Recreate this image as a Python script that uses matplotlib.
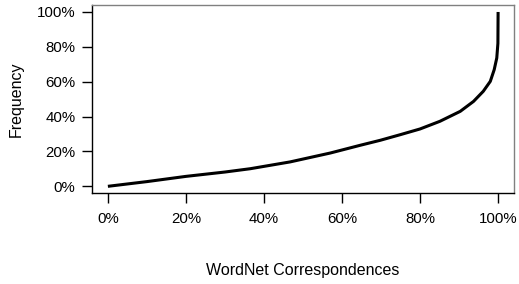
import matplotlib
matplotlib.use('Agg')
import matplotlib.pyplot as plt
from matplotlib.ticker import FuncFormatter

# cumulative share of WordNet correspondences vs frequency
correspondences = [0.0, 0.10, 0.20, 0.30, 0.365, 0.467, 0.57, 0.646, 0.698, 0.749,
                   0.80, 0.851, 0.903, 0.937, 0.962, 0.980, 0.990, 0.9966, 0.9995, 1.0]
frequency = [0.0, 0.027, 0.057, 0.082, 0.101, 0.14, 0.191, 0.235, 0.264, 0.296,
             0.329, 0.373, 0.43, 0.487, 0.545, 0.602, 0.669, 0.736, 0.82, 1.0]

tick_vals = [0, 0.2, 0.4, 0.6, 0.8, 1.0]

plt.rcParams['font.family'] = ['Liberation Sans', 'DejaVu Sans']
plt.rcParams['font.size'] = 10.8

fig = plt.figure(figsize=(5.19, 2.84), dpi=100)
ax = fig.add_axes([0.1778, 0.3194, 0.9898 - 0.1778, 0.9824 - 0.3194])

ax.plot(correspondences, frequency, color='black', lw=2.2,
        solid_capstyle='butt', solid_joinstyle='round')

ax.set_xlim(-0.04, 1.04)
ax.set_ylim(-0.04, 1.04)

pct = FuncFormatter(lambda v, p: '%d%%' % round(v * 100))
ax.set_xticks(tick_vals)
ax.set_yticks(tick_vals)
ax.xaxis.set_major_formatter(pct)
ax.yaxis.set_major_formatter(pct)
ax.tick_params(axis='both', direction='out', length=7.2, width=1.0, colors='black',
               labelsize=10.8)
ax.tick_params(axis='x', pad=6)
ax.tick_params(axis='y', pad=5)

for side in ['top', 'right']:
    ax.spines[side].set_color('#808080')
    ax.spines[side].set_linewidth(1.0)
for side in ['left', 'bottom']:
    ax.spines[side].set_color('black')
    ax.spines[side].set_linewidth(1.0)

ax.set_xlabel('WordNet Correspondences', fontsize=11.5, labelpad=27)
ax.set_ylabel('Frequency', fontsize=11.5, labelpad=9)

fig.savefig('out.png', dpi=100)
